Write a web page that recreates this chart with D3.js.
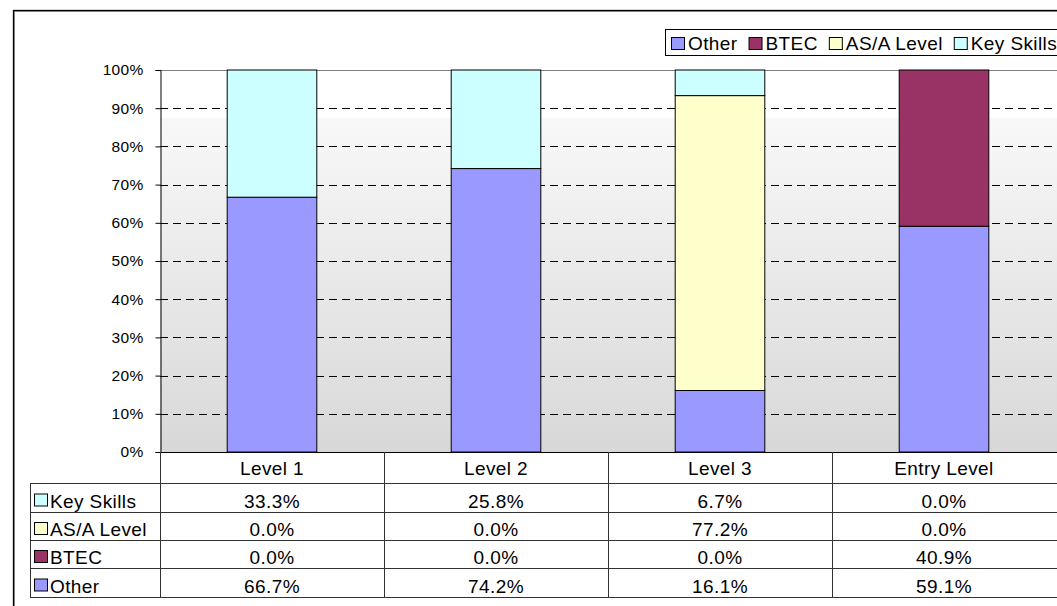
<!DOCTYPE html>
<html>
<head>
<meta charset="utf-8">
<script src="https://cdn.jsdelivr.net/npm/d3@7"></script>
<style>
  html, body { margin: 0; padding: 0; background: #fff; }
  svg { display: block; font-family: "Liberation Sans", Arial, sans-serif; }
</style>
</head>
<body>
<svg id="chart" width="1057" height="606"></svg>
<script>
// Qualification mix by level (percent of learners)
const categories = ["Level 1", "Level 2", "Level 3", "Entry Level"];
const seriesNames = ["Other", "BTEC", "AS/A Level", "Key Skills"];   // stacking order, bottom to top
const other      = [66.7, 74.2, 16.1, 59.1];
const btec       = [0.0, 0.0, 0.0, 40.9];
const asALevel   = [0.0, 0.0, 77.2, 0.0];
const keySkills  = [33.3, 25.8, 6.7, 0.0];
const yTicks     = [0, 10, 20, 30, 40, 50, 60, 70, 80, 90, 100];
const seriesColors = ["#9999ff", "#993366", "#ffffcc", "#ccffff"];

const seriesValues = [other, btec, asALevel, keySkills];
const rows = categories.map((c, i) => {
  const r = { category: c };
  seriesNames.forEach((s, k) => { r[s] = seriesValues[k][i]; });
  return r;
});

const svg = d3.select("#chart");
const plot = { left: 160, right: 1056, top: 70, bottom: 452 };
const table = { labelLeft: 30, headerBottom: 483, rowLines: [483, 511.5, 540, 568, 596.5] };
const FS = 19, LS = "0.4px";

const x = d3.scaleBand().domain(categories).range([plot.left, plot.right]).paddingInner(0).paddingOuter(0);
const barW = x.bandwidth() * 0.4;
const y = d3.scaleLinear().domain([0, 100]).range([plot.bottom, plot.top]);
const color = d3.scaleOrdinal().domain(seriesNames).range(seriesColors);

// Plot-area background gradient
const defs = svg.append("defs");
const grad = defs.append("linearGradient").attr("id", "bg").attr("x1", 0).attr("y1", 0).attr("x2", 0).attr("y2", 1);
grad.append("stop").attr("offset", 0).attr("stop-color", "#ffffff");
grad.append("stop").attr("offset", 0.125).attr("stop-color", "#ffffff");
grad.append("stop").attr("offset", 0.127).attr("stop-color", "#f8f8f8");
grad.append("stop").attr("offset", 1).attr("stop-color", "#d8d8d8");

// Chart frame
svg.append("rect").attr("x", 14.5).attr("y", 11.5).attr("width", 1100).attr("height", 700)
  .attr("fill", "none").attr("stroke", "#999").attr("stroke-width", 1);
svg.append("rect").attr("x", 13.5).attr("y", 10.5).attr("width", 1100).attr("height", 700)
  .attr("fill", "none").attr("stroke", "#000").attr("stroke-width", 1.3);

svg.append("rect").attr("x", plot.left).attr("y", plot.top)
  .attr("width", plot.right - plot.left + 10).attr("height", plot.bottom - plot.top)
  .attr("fill", "url(#bg)");

// Dashed gridlines
svg.append("g").selectAll("line").data(yTicks.filter(t => t > 0 && t < 100)).join("line")
  .attr("x1", plot.left).attr("x2", 1057)
  .attr("y1", d => Math.round(y(d)) + 0.5).attr("y2", d => Math.round(y(d)) + 0.5)
  .attr("stroke", "#000").attr("stroke-width", 1).attr("stroke-dasharray", "8,5");

// Plot-area top border
svg.append("line").attr("x1", plot.left).attr("x2", 1057)
  .attr("y1", y(100) + 0.5).attr("y2", y(100) + 0.5)
  .attr("stroke", "#808080").attr("stroke-width", 1.2);

// Stacked bars
const stacked = d3.stack().keys(seriesNames)(rows);
svg.append("g").selectAll("g").data(stacked).join("g")
  .attr("fill", d => color(d.key))
  .selectAll("rect").data(d => d.filter(p => p[1] - p[0] > 0)).join("rect")
  .attr("x", d => x(d.data.category) + (x.bandwidth() - barW) / 2)
  .attr("y", d => y(d[1]))
  .attr("width", barW)
  .attr("height", d => y(d[0]) - y(d[1]))
  .attr("stroke", "#000").attr("stroke-width", 1);

// Y axis
const yAxis = d3.axisLeft(y).tickValues(yTicks).tickFormat(d => d + "%").tickSize(5).tickPadding(12);
const ya = svg.append("g").attr("transform", `translate(${plot.left + 0.5},0)`).call(yAxis);
ya.select(".domain").attr("stroke", "#000");
ya.selectAll(".tick line").attr("stroke", "#000");
ya.selectAll(".tick text").attr("font-size", 15.5).attr("fill", "#000").attr("letter-spacing", "0.3px")
  .attr("font-family", "Liberation Sans, Arial, sans-serif");

// Data table under the plot
const tg = svg.append("g").attr("fill", "#000").attr("letter-spacing", LS);
const line = (x1, y1, x2, y2, c) => tg.append("line").attr("x1", x1).attr("y1", y1).attr("x2", x2).attr("y2", y2)
  .attr("stroke", c || "#000").attr("stroke-width", 1);

// horizontal rules
line(plot.left, plot.bottom + 0.5, 1057, plot.bottom + 0.5);
table.rowLines.forEach(ly => line(table.labelLeft, Math.round(ly) + 0.5, 1057, Math.round(ly) + 0.5, "#333"));
// vertical rules
line(table.labelLeft + 0.5, table.headerBottom, table.labelLeft + 0.5, Math.round(table.rowLines[4]) + 1, "#333");
[plot.left].concat(categories.slice(1).map(c => x(c))).forEach(vx =>
  line(Math.round(vx) + 0.5, plot.bottom, Math.round(vx) + 0.5, Math.round(table.rowLines[4]) + 1, "#333"));

// header: category names
tg.selectAll("text.cat").data(categories).join("text").attr("class", "cat")
  .attr("x", d => x(d) + x.bandwidth() / 2).attr("y", 475)
  .attr("text-anchor", "middle").attr("font-size", FS).text(d => d);

// body rows: top to bottom reverses the stack
const tableOrder = seriesNames.slice().reverse();
tableOrder.forEach((s, r) => {
  const base = table.rowLines[r + 1] - 4;
  tg.append("rect").attr("x", 34.5).attr("y", base - 13.5).attr("width", 13).attr("height", 12)
    .attr("fill", color(s)).attr("stroke", "#000").attr("stroke-width", 1);
  tg.append("text").attr("x", 50).attr("y", base).attr("font-size", FS).text(s);
  tg.selectAll(null).data(rows).join("text")
    .attr("x", d => x(d.category) + x.bandwidth() / 2).attr("y", base)
    .attr("text-anchor", "middle").attr("font-size", FS)
    .text(d => d[s].toFixed(1) + "%");
});

// Legend
const lg = svg.append("g").attr("letter-spacing", LS);
lg.append("rect").attr("x", 665.5).attr("y", 29.5).attr("width", 500).attr("height", 26)
  .attr("fill", "#fff").attr("stroke", "#000").attr("stroke-width", 1);
let lx = 671;
seriesNames.forEach(s => {
  lg.append("rect").attr("x", lx + 0.5).attr("y", 37.5).attr("width", 13).attr("height", 12)
    .attr("fill", color(s)).attr("stroke", "#000").attr("stroke-width", 1);
  const t = lg.append("text").attr("x", lx + 17).attr("y", 50).attr("font-size", FS).attr("fill", "#000").text(s);
  lx += 17 + t.node().getComputedTextLength() + 11;
});
</script>
</body>
</html>
